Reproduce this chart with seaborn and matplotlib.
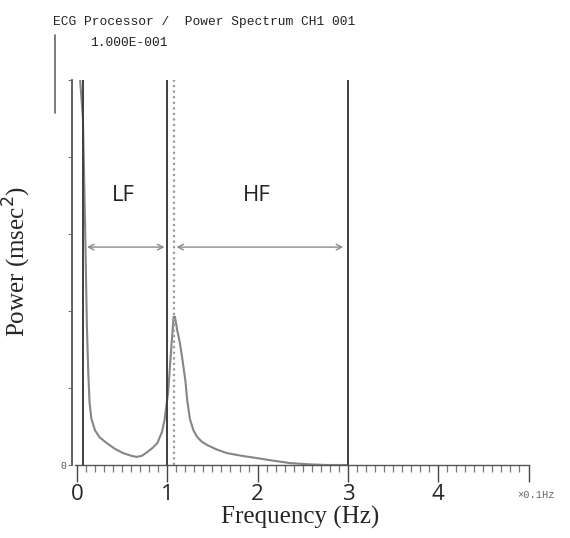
import numpy as np
import pandas as pd
import matplotlib
matplotlib.use("Agg")
import matplotlib.pyplot as plt
from matplotlib.lines import Line2D
import seaborn as sns

# ---- data (frequency in units of 0.1 Hz, power scaled to 1.000E-001 full scale) ----
freq = [0.01, 0.035, 0.066, 0.09, 0.11, 0.125, 0.14, 0.16, 0.20, 0.25, 0.33, 0.42,
        0.51, 0.60, 0.66, 0.72, 0.78, 0.84, 0.89, 0.94, 0.97, 1.01, 1.04, 1.07,
        1.085, 1.11, 1.14, 1.17, 1.20, 1.22, 1.25, 1.29, 1.33, 1.38, 1.44, 1.55,
        1.66, 1.82, 1.99, 2.18, 2.36, 2.55, 2.77, 3.0]
power = [1.06, 1.00, 0.90, 0.62, 0.36, 0.24, 0.16, 0.12, 0.09, 0.072, 0.057, 0.042,
         0.031, 0.024, 0.021, 0.024, 0.034, 0.045, 0.057, 0.085, 0.117, 0.19, 0.29, 0.385,
         0.385, 0.35, 0.317, 0.27, 0.22, 0.17, 0.12, 0.09, 0.073, 0.061, 0.052, 0.040,
         0.031, 0.024, 0.018, 0.011, 0.005, 0.002, 0.0, 0.0]
band_edges = [0.07, 1.0, 3.0]          # solid boundary lines
peak_marker = 1.07                       # dotted line at HF peak
bands = ["LF", "HF"]
band_ranges = [(0.08, 1.0), (1.07, 2.98)]
band_label_pos = [(0.51, 0.70), (1.99, 0.70)]
arrow_level = 0.566
xtick_vals = [0, 1, 2, 3, 4]
xtick_labels = ["0", "1", "2", "3", "4"]

df = pd.DataFrame({"freq": freq, "power": power})

sns.set_style("white")
plt.rcParams["font.family"] = ["DejaVu Sans"]

fig = plt.figure(figsize=(5.70, 5.38), dpi=100)
ax = fig.add_axes([72 / 570, 73 / 538, (528.5 - 72) / 570, 385 / 538])

sns.lineplot(data=df, x="freq", y="power", ax=ax, color="#858585", linewidth=1.5,
             sort=False, estimator=None)

for xe in band_edges:
    ax.axvline(xe, ymin=0, ymax=1, color="#3f3f3f", linewidth=1.4, zorder=3)
ax.axvline(peak_marker, color="#9a9a9a", linewidth=1.6, linestyle=(0, (1, 1.5)), zorder=3)

for name, (x0, x1), (lx, ly) in zip(bands, band_ranges, band_label_pos):
    ax.annotate("", xy=(x1, arrow_level), xytext=(x0, arrow_level),
                arrowprops=dict(arrowstyle="<->", color="#8a8a8a", lw=1.0,
                                mutation_scale=10))
    ax.text(lx, ly, name, ha="center", va="center", fontsize=16,
            family="Open Sans", color="#222222")

ax.set_xlim(-0.055, 5.0)
ax.set_ylim(0, 1.0)

for s in ["top", "right"]:
    ax.spines[s].set_visible(False)
ax.spines["bottom"].set_bounds(-0.02, 5.0)
ax.spines["bottom"].set_color("#555555")
ax.spines["left"].set_color("#555555")
ax.spines["left"].set_linewidth(1.3)
ax.spines["bottom"].set_linewidth(1.0)

ax.set_xticks(xtick_vals + [5])
ax.set_xticklabels(xtick_labels + [""], family="Open Sans", fontsize=16)
ax.set_xticks(np.arange(0, 5.01, 0.1), minor=True)
ax.tick_params(axis="x", which="major", direction="out", length=12, width=1.0,
               color="#444444", pad=2, bottom=True)
ax.tick_params(axis="x", which="minor", direction="out", length=5, width=0.9,
               color="#777777", bottom=True)
ax.set_yticks([0, 0.2, 0.4, 0.6, 0.8, 1.0])
ax.set_yticklabels(["0", "", "", "", "", ""], family="Liberation Mono", fontsize=7,
                   color="#555555")
ax.tick_params(axis="y", which="major", direction="out", length=3, width=0.8,
               color="#777777", pad=1, left=True)

ax.set_xlabel("Frequency (Hz)", family="Liberation Serif", fontsize=18)
ax.xaxis.set_label_coords(0.5, -0.105)
ax.set_ylabel("Power (msec$^2$)", family="Liberation Serif", fontsize=18)
ax.yaxis.set_label_coords(-0.085, 0.53)
ax.yaxis.label.set_va("bottom")

mono = "Liberation Mono"
fig.text(53 / 570, 1 - 22 / 538, "ECG Processor /  Power Spectrum CH1 001",
         family=mono, fontsize=9.3, va="center", ha="left", color="#222222")
fig.text(90 / 570, 1 - 43 / 538, "1.000E-001", family=mono, fontsize=9.3,
         va="center", ha="left", color="#222222")
fig.text(517 / 570, 1 - 495 / 538, "×0.1Hz", family=mono, fontsize=7.5,
         va="center", ha="left", color="#666666")
fig.add_artist(Line2D([55 / 570, 55 / 570], [1 - 35 / 538, 1 - 113 / 538],
                      color="#666666", linewidth=1.2))

fig.savefig("out.png", dpi=100)
